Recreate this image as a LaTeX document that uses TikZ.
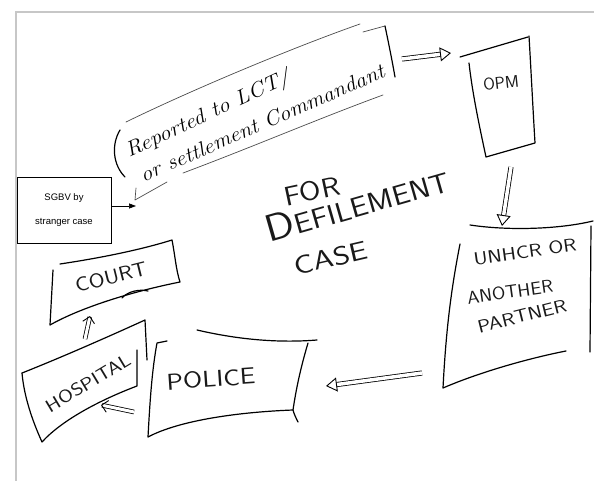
\documentclass[tikz,border=0pt]{standalone}
\usepackage{fontspec}
\usepackage{graphicx}
\newfontfamily\arialfont{Liberation Sans}
\usetikzlibrary{arrows.meta}
\newcommand{\wide}[2]{\scalebox{#1}[1]{#2}}
\begin{document}
\begin{tikzpicture}[x=1pt,y=-1pt,
  pen/.style={line width=1.2pt, line join=round, line cap=round},
  thinpen/.style={line width=0.7pt, draw=black!70, line cap=round, line join=round},
  hand/.style={font=\sffamily, inner sep=0pt, text=black!90},
  script/.style={font=\itshape\fontsize{21}{22}\selectfont, inner sep=0pt},
  triarrow/.style={line width=0.8pt, double, double distance=3.5pt,
     -{Triangle[open, length=11pt, width=14pt, line width=0.9pt]}},
  chevarrow/.style={line width=0.8pt, double, double distance=3pt,
     -{Straight Barb[length=6pt, width=12pt, line width=0.9pt]}}]
\useasboundingbox (0,0) rectangle (594,481);
\fill[white] (0,0) rectangle (594,481);
% frame
\draw[black!22, line width=1.5pt] (16,481) -- (16,12) -- (594,12);

% SGBV box
\node[draw, line width=0.8pt, minimum width=94pt, minimum height=66pt, inner sep=0pt,
      align=center, font=\arialfont\fontsize{9.5}{24}\selectfont] (sgbv) at (64,210)
      {SGBV by\\stranger case};
\coordinate (sgbvtip) at (136,206);
\draw[line width=0.7pt, -{Triangle[length=7pt, width=5pt]}] (sgbv.east |- sgbvtip) -- (sgbvtip);

% callout "Reported to ..."
\draw[thinpen] (126,122) .. controls (200,86) and (300,45) .. (360,24);
\draw[thinpen] (363,32) -- (385,26);
\draw[pen] (385,26) .. controls (389,45) and (392,60) .. (395,77);
\draw[thinpen] (183,173) .. controls (250,148) and (320,118) .. (383,95);
\draw[pen] (120,130) .. controls (111,145) and (113,165) .. (125,177);
\coordinate (cltail) at (167,182);
\coordinate (cltip) at (135,200);
\coordinate (clbarb) at (136,188);
\draw[thinpen] (cltail) -- (cltip) -- (clbarb);
\node[script, rotate=25] (cl1) at (208,115) {\wide{1.1}{Reported to LCT/}};
\node[script, rotate=23.5] (cl2) at (262,123) {\wide{1.08}{or settlement Commandant}};

% arrow callout -> OPM
\coordinate (c2oa) at (402,59);
\coordinate (c2ob) at (451,53);
\draw[triarrow] (c2oa) -- (c2ob);

% OPM box
\draw[pen] (460,57) -- (528,37);
\draw[pen] (529,36) .. controls (531,70) and (533,110) .. (535,143) -- (486,157)
   .. controls (478,120) and (472,90) .. (469,63);
\node[hand, font=\sffamily\fontsize{17}{17}\selectfont, rotate=6] (opm) at (501,83) {OPM};

% arrow OPM -> UNHCR
\coordinate (o2ua) at (511,167);
\coordinate (o2ub) at (502,226);
\draw[triarrow] (o2ua) -- (o2ub);

% UNHCR box
\draw[pen] (470,225) .. controls (510,231) and (560,229) .. (593,221);
\draw[pen] (460,244) .. controls (451,290) and (446,330) .. (443,388)
   .. controls (480,372) and (530,358) .. (566,351);
\draw[pen] (591,226) -- (590,352);
\node[hand, font=\sffamily\fontsize{18}{18}\selectfont, rotate=8] (un1) at (525,252) {\wide{1.2}{UNHCR OR}};
\node[hand, font=\sffamily\fontsize{18}{18}\selectfont, rotate=8] (un2) at (510,292) {\wide{1.08}{ANOTHER}};
\node[hand, font=\sffamily\fontsize{18}{18}\selectfont, rotate=14] (un3) at (522,316) {\wide{1.2}{PARTNER}};

% arrow UNHCR -> Police
\coordinate (u2pa) at (422,373);
\coordinate (u2pb) at (326,386);
\draw[triarrow] (u2pa) -- (u2pb);

% Police box
\draw[pen] (197,330) .. controls (240,340) and (280,343) .. (317,340);
\draw[pen] (308,343) .. controls (300,370) and (296,390) .. (293,410)
   .. controls (294,414) and (296,418) .. (298,422);
\draw[pen] (293,410) .. controls (240,412) and (180,420) .. (148,437)
   .. controls (150,400) and (152,370) .. (157,343) -- (167,341);
\node[hand, font=\sffamily\fontsize{23}{23}\selectfont, rotate=4] (police) at (211,379) {\wide{1.2}{POLICE}};

% arrow Police -> Hospital
\coordinate (p2ha) at (134,412);
\coordinate (p2hb) at (101,405);
\draw[chevarrow] (p2ha) -- (p2hb);

% Hospital box
\draw[pen] (22,373) .. controls (60,358) and (110,336) .. (145,320) -- (147,360);
\draw[pen] (137,350) -- (137,386)
   .. controls (100,400) and (62,420) .. (42,442)
   .. controls (32,420) and (24,396) .. (22,373);
\node[hand, font=\sffamily\fontsize{18}{18}\selectfont, rotate=31] (hosp) at (88,383) {\wide{1.2}{HOSPITAL}};

% arrow Hospital -> Court
\coordinate (h2ca) at (85,339);
\coordinate (h2cb) at (90,316);
\draw[chevarrow] (h2ca) -- (h2cb);

% Court box
\draw[pen] (60,264) .. controls (100,258) and (140,250) .. (172,240)
   .. controls (175,255) and (176,270) .. (180,282)
   .. controls (130,292) and (80,308) .. (50,325) -- (53,270);
\draw[pen] (122,298) .. controls (128,291) and (140,289) .. (148,291);
\node[hand, font=\sffamily\fontsize{20}{20}\selectfont, rotate=14] (court) at (111,277) {\wide{1.15}{COURT}};

% central text
\node[hand, font=\sffamily\fontsize{27}{27}\selectfont, rotate=12] (for) at (312,191) {\wide{1.15}{FOR}};
\node[hand, font=\sffamily\fontsize{28}{28}\selectfont, rotate=16] (defile) at (357,204)
   {\wide{1.12}{{\fontsize{38}{38}\selectfont D}EFILEMENT}};
\node[hand, font=\sffamily\fontsize{26}{26}\selectfont, rotate=13] (case) at (331,258) {\wide{1.25}{CASE}};
\end{tikzpicture}
\end{document}
